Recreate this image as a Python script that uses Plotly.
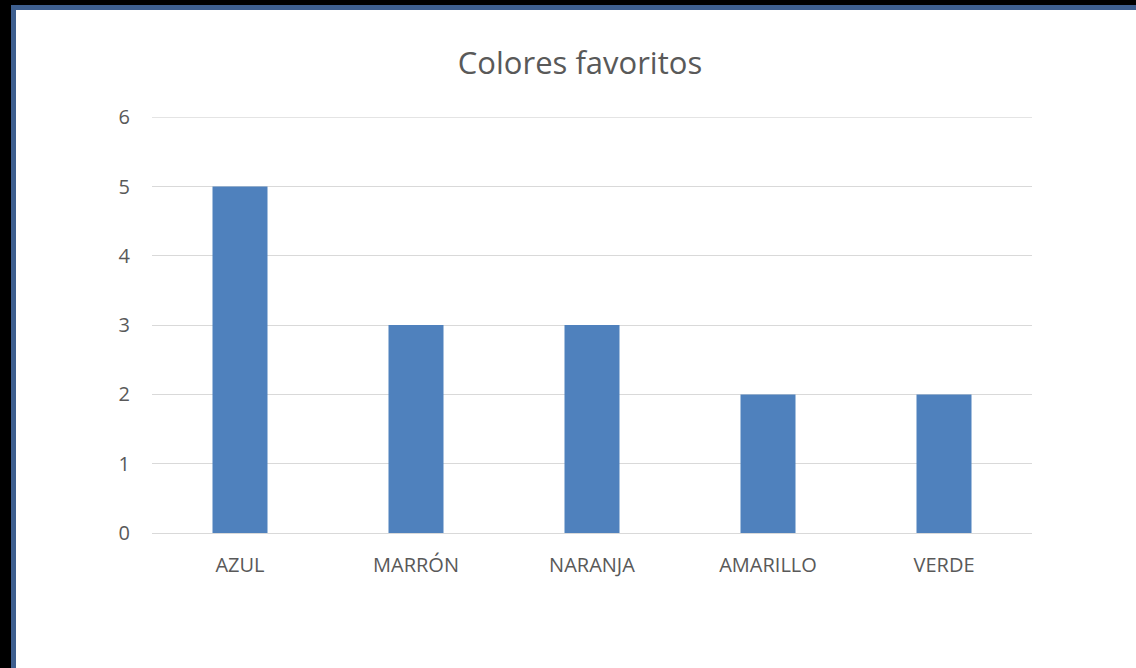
import plotly.graph_objects as go

categories = ["AZUL", "MARRÓN", "NARANJA", "AMARILLO", "VERDE"]
values = [5, 3, 3, 2, 2]
y_ticks = [0, 1, 2, 3, 4, 5, 6]
title_text = "Colores favoritos"

W, H = 1136, 668
L, R, T, B = 152, 104, 117, 135
PW, PH = W - L - R, H - T - B

def px_x(px):
    return (px - L) / PW

def px_y(py):
    return (H - B - py) / PH

fig = go.Figure(go.Bar(
    x=categories, y=values,
    marker=dict(color="#4f81bd", line=dict(width=0)),
    width=0.3125,
))

shapes = [
    dict(type="line", xref="paper", yref="y", x0=0, x1=1, y0=max(y_ticks), y1=max(y_ticks),
         line=dict(color="#d9d9d9", width=1), layer="below"),
    dict(type="rect", xref="paper", yref="paper", x0=px_x(0), x1=px_x(W), y0=px_y(0), y1=px_y(5),
         fillcolor="#000000", line=dict(width=0), layer="above"),
    dict(type="rect", xref="paper", yref="paper", x0=px_x(0), x1=px_x(11), y0=px_y(0), y1=px_y(H),
         fillcolor="#000000", line=dict(width=0), layer="above"),
    dict(type="rect", xref="paper", yref="paper", x0=px_x(11), x1=px_x(W), y0=px_y(5), y1=px_y(10),
         fillcolor="#3e5f8f", line=dict(width=0), layer="above"),
    dict(type="rect", xref="paper", yref="paper", x0=px_x(11), x1=px_x(16), y0=px_y(5), y1=px_y(H),
         fillcolor="#3e5f8f", line=dict(width=0), layer="above"),
]

fig.update_layout(
    width=W, height=H,
    margin=dict(l=L, r=R, t=T, b=B),
    paper_bgcolor="white", plot_bgcolor="white",
    showlegend=False,
    title=dict(text=title_text, x=580 / W, xanchor="center", xref="container",
               y=1 - 63 / H, yanchor="middle", yref="container",
               font=dict(family="Open Sans", size=31, color="#595959")),
    font=dict(family="Open Sans", color="#595959"),
    shapes=shapes,
)
fig.update_xaxes(showgrid=False, showline=True, linecolor="#d9d9d9", linewidth=1,
                 ticks="", tickfont=dict(size=20, color="#595959"), ticklabelstandoff=14,
                 fixedrange=True)
fig.update_yaxes(range=[0, 6.003], tickvals=y_ticks, showgrid=True, gridcolor="#d9d9d9", gridwidth=1,
                 zeroline=True, zerolinecolor="#d9d9d9", zerolinewidth=1, showline=False,
                 ticks="", tickfont=dict(size=20, color="#595959"), ticklabelstandoff=21,
                 fixedrange=True)

fig.write_html("out.html", config={"displayModeBar": False},
               post_script="document.body.style.margin='0';document.body.style.overflow='hidden';")
